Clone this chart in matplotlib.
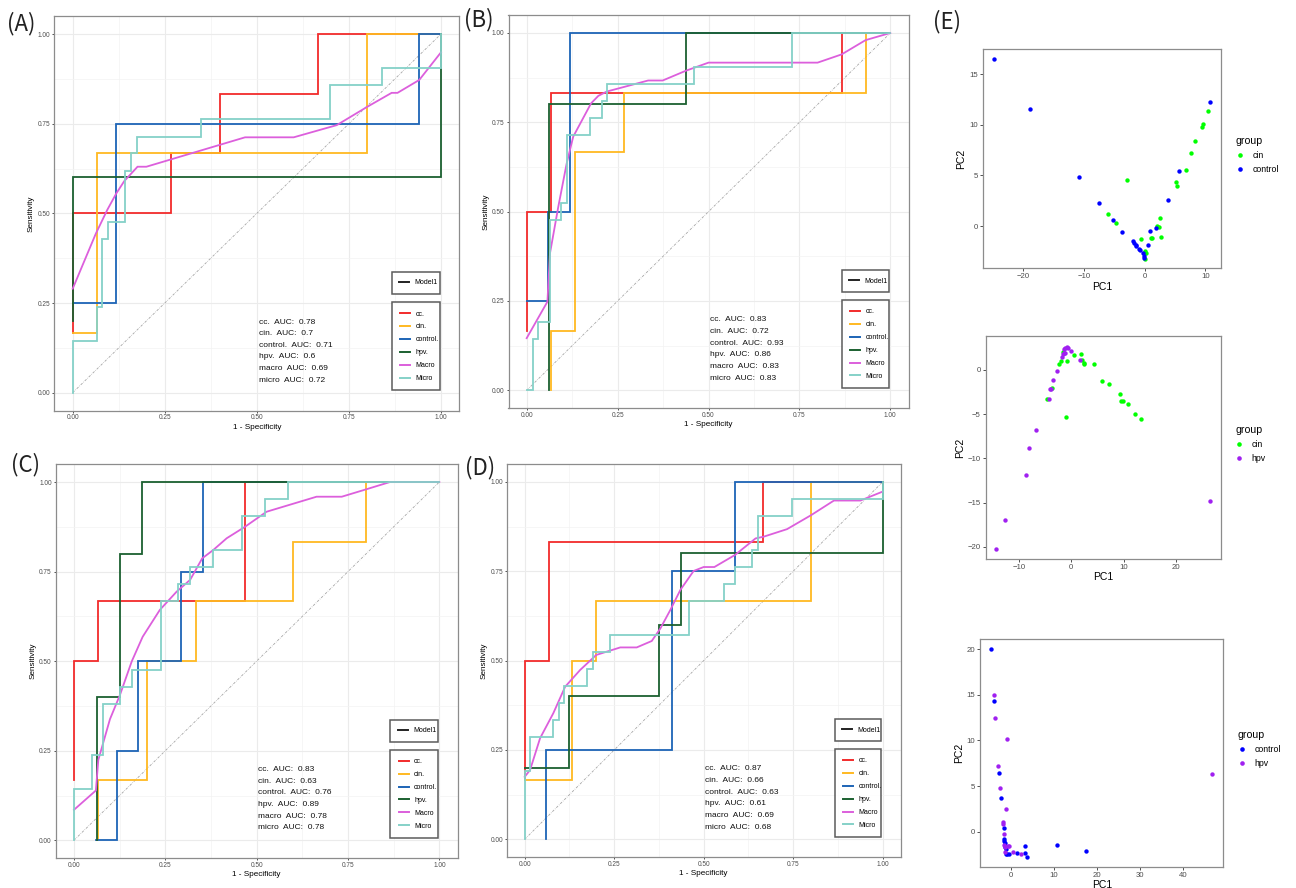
import matplotlib
matplotlib.use("Agg")
import matplotlib.pyplot as plt
from matplotlib.lines import Line2D

plt.rcParams['font.family'] = ['Liberation Sans', 'DejaVu Sans']

# ---------------- data ----------------
classes = ["cc.", "cin.", "control.", "hpv.", "Macro", "Micro"]
class_colors = ["#F22B2B", "#FFB921", "#1D64B6", "#1B6030", "#DC5FDC", "#85D1C8"]
auc_labels = ["cc.", "cin.", "control.", "hpv.", "macro", "micro"]
roc_ticks = [0, 0.25, 0.5, 0.75, 1.0]

# Panel A
A_fpr = {
    "cc.": [0, 0, 0.267, 0.267, 0.4, 0.4, 0.667, 0.667, 1],
    "cin.": [0, 0.067, 0.067, 0.8, 0.8, 1],
    "control.": [0, 0.118, 0.118, 0.941, 0.941, 1],
    "hpv.": [0, 0, 1, 1],
    "Macro": [0, 0.063, 0.094, 0.118, 0.14, 0.176, 0.2, 0.468, 0.6, 0.717, 0.798, 0.866, 0.882, 0.941, 1],
    "Micro": [0, 0, 0.065, 0.065, 0.08, 0.08, 0.095, 0.095, 0.143, 0.143, 0.158, 0.158, 0.174, 0.174,
              0.349, 0.349, 0.698, 0.698, 0.841, 0.841, 1, 1],
}
A_tpr = {
    "cc.": [0.167, 0.5, 0.5, 0.667, 0.667, 0.833, 0.833, 1, 1],
    "cin.": [0.167, 0.167, 0.667, 0.667, 1, 1],
    "control.": [0.25, 0.25, 0.75, 0.75, 1, 1],
    "hpv.": [0.2, 0.6, 0.6, 1],
    "Macro": [0.29, 0.444, 0.51, 0.555, 0.59, 0.63, 0.63, 0.712, 0.712, 0.746, 0.796, 0.836, 0.836, 0.872, 0.949],
    "Micro": [0, 0.143, 0.143, 0.238, 0.238, 0.429, 0.429, 0.476, 0.476, 0.619, 0.619, 0.667, 0.667, 0.714,
              0.714, 0.762, 0.762, 0.857, 0.857, 0.905, 0.905, 1],
}
A_auc = [0.78, 0.7, 0.71, 0.6, 0.69, 0.72]

# Panel B
B_fpr = {
    "cc.": [0, 0, 0.067, 0.067, 0.867, 0.867, 1],
    "cin.": [0.067, 0.067, 0.133, 0.133, 0.267, 0.267, 0.933, 0.933, 1],
    "control.": [0, 0.059, 0.059, 0.118, 0.118, 1],
    "hpv.": [0.0625, 0.0625, 0.4375, 0.4375, 1],
    "Macro": [0, 0.057, 0.064, 0.087, 0.11, 0.128, 0.177, 0.197, 0.22, 0.334, 0.374, 0.437, 0.5, 0.8,
              0.866, 0.932, 1],
    "Micro": [0, 0.016, 0.016, 0.032, 0.032, 0.063, 0.063, 0.095, 0.095, 0.111, 0.111, 0.175, 0.175,
              0.206, 0.206, 0.222, 0.222, 0.46, 0.46, 0.73, 0.73, 1],
}
B_tpr = {
    "cc.": [0.167, 0.5, 0.5, 0.833, 0.833, 1, 1],
    "cin.": [0, 0.167, 0.167, 0.667, 0.667, 0.833, 0.833, 1, 1],
    "control.": [0.25, 0.25, 0.5, 0.5, 1, 1],
    "hpv.": [0, 0.8, 0.8, 1, 1],
    "Macro": [0.146, 0.248, 0.383, 0.514, 0.635, 0.71, 0.803, 0.824, 0.836, 0.867, 0.867, 0.894, 0.917,
              0.917, 0.94, 0.98, 1],
    "Micro": [0, 0, 0.143, 0.143, 0.19, 0.19, 0.476, 0.476, 0.524, 0.524, 0.714, 0.714, 0.762, 0.762,
              0.81, 0.81, 0.857, 0.857, 0.905, 0.905, 1, 1],
}
B_auc = [0.83, 0.72, 0.93, 0.86, 0.83, 0.83]

# Panel C
C_fpr = {
    "cc.": [0, 0, 0.067, 0.067, 0.467, 0.467, 1],
    "cin.": [0.067, 0.067, 0.2, 0.2, 0.333, 0.333, 0.6, 0.6, 0.8, 0.8, 1],
    "control.": [0.059, 0.118, 0.118, 0.176, 0.176, 0.294, 0.294, 0.353, 0.353, 1],
    "hpv.": [0.0625, 0.0625, 0.125, 0.125, 0.1875, 0.1875, 1],
    "Macro": [0, 0.06, 0.0666, 0.0985, 0.126, 0.158, 0.188, 0.235, 0.281, 0.318, 0.351, 0.381, 0.418,
              0.468, 0.527, 0.664, 0.733, 0.801, 0.865, 1],
    "Micro": [0, 0, 0.048, 0.048, 0.079, 0.079, 0.127, 0.127, 0.159, 0.159, 0.238, 0.238, 0.286, 0.286,
              0.317, 0.317, 0.381, 0.381, 0.46, 0.46, 0.524, 0.524, 0.587, 0.587, 1],
}
C_tpr = {
    "cc.": [0.167, 0.5, 0.5, 0.667, 0.667, 1, 1],
    "cin.": [0, 0.167, 0.167, 0.5, 0.5, 0.667, 0.667, 0.833, 0.833, 1, 1],
    "control.": [0, 0, 0.25, 0.25, 0.5, 0.5, 0.75, 0.75, 1, 1],
    "hpv.": [0, 0.4, 0.4, 0.8, 0.8, 1, 1],
    "Macro": [0.085, 0.139, 0.224, 0.338, 0.406, 0.499, 0.568, 0.643, 0.694, 0.727, 0.787, 0.81, 0.843,
              0.875, 0.917, 0.959, 0.959, 0.98, 1, 1],
    "Micro": [0, 0.143, 0.143, 0.238, 0.238, 0.381, 0.381, 0.429, 0.429, 0.476, 0.476, 0.667, 0.667,
              0.714, 0.714, 0.762, 0.762, 0.81, 0.81, 0.905, 0.905, 0.952, 0.952, 1, 1],
}
C_auc = [0.83, 0.63, 0.76, 0.89, 0.78, 0.78]

# Panel D
D_fpr = {
    "cc.": [0, 0, 0.067, 0.067, 0.667, 0.667, 1],
    "cin.": [0, 0.133, 0.133, 0.2, 0.2, 0.8, 0.8, 1],
    "control.": [0.059, 0.059, 0.412, 0.412, 0.588, 0.588, 1],
    "hpv.": [0, 0.125, 0.125, 0.375, 0.375, 0.4375, 0.4375, 1, 1],
    "Macro": [0, 0.015, 0.043, 0.08, 0.113, 0.155, 0.2, 0.267, 0.313, 0.355, 0.379, 0.407, 0.435, 0.472,
              0.5, 0.53, 0.588, 0.645, 0.668, 0.733, 0.8, 0.864, 0.938, 1],
    "Micro": [0, 0, 0.016, 0.016, 0.079, 0.079, 0.095, 0.095, 0.111, 0.111, 0.175, 0.175, 0.19, 0.19,
              0.238, 0.238, 0.46, 0.46, 0.556, 0.556, 0.587, 0.587, 0.635, 0.635, 0.651, 0.651,
              0.746, 0.746, 1, 1],
}
D_tpr = {
    "cc.": [0.167, 0.5, 0.5, 0.833, 0.833, 1, 1],
    "cin.": [0.167, 0.167, 0.5, 0.5, 0.667, 0.667, 1, 1],
    "control.": [0, 0.25, 0.25, 0.75, 0.75, 1, 1],
    "hpv.": [0.2, 0.2, 0.4, 0.4, 0.6, 0.6, 0.8, 0.8, 1],
    "Macro": [0.175, 0.194, 0.283, 0.353, 0.427, 0.474, 0.516, 0.537, 0.537, 0.555, 0.59, 0.642, 0.698,
              0.751, 0.762, 0.762, 0.796, 0.842, 0.847, 0.868, 0.907, 0.948, 0.948, 0.973],
    "Micro": [0, 0.19, 0.19, 0.286, 0.286, 0.333, 0.333, 0.381, 0.381, 0.429, 0.429, 0.476, 0.476,
              0.524, 0.524, 0.571, 0.571, 0.667, 0.667, 0.714, 0.714, 0.762, 0.762, 0.81, 0.81, 0.905,
              0.905, 0.952, 0.952, 1],
}
D_auc = [0.87, 0.66, 0.63, 0.61, 0.69, 0.68]

# PCA panel E1 (cin vs control)
E1_cin_pc1 = [-3.0, -6.0, -4.7, -0.6, 0.05, 0.2, 0.0, 1.0, 1.2, 2.1, 2.3, 2.6, 2.7, 5.2, 5.3, 6.8, 7.7, 8.3, 9.45, 9.6, 10.5]
E1_cin_pc2 = [4.57, 1.18, 0.33, -1.25, -2.5, -2.7, -3.3, -1.2, -1.2, 0.0, -0.1, 0.8, -1.05, 4.3, 3.95, 5.56, 7.24, 8.4, 9.8, 10.07, 11.4]
E1_control_pc1 = [-24.8, -18.9, -10.9, -7.6, -5.2, -3.8, -2.0, -1.7, -1.5, -1.4, -0.9, -0.7, -0.3, -0.2, -0.2, 0.6, 0.9, 1.9, 3.9, 5.7, 10.8]
E1_control_pc2 = [16.45, 11.58, 4.8, 2.24, 0.6, -0.6, -1.5, -1.7, -1.9, -2.0, -2.3, -2.4, -2.7, -2.96, -3.2, -1.9, -0.5, -0.2, 2.6, 5.4, 12.2]

# PCA panel E2 (cin vs hpv)
E2_cin_pc1 = [-4.7, -3.75, -2.3, -1.97, -1.6, -0.9, -1.08, 0.57, 1.84, 2.03, 2.35, 2.48, 4.3, 5.84, 7.24, 9.2, 9.46, 9.9, 10.8, 12.1, 13.27]
E2_cin_pc2 = [-3.28, -2.03, 0.68, 0.98, 2.03, 1.02, -5.31, 1.73, 1.84, 1.13, 0.64, 0.75, 0.64, -1.24, -1.58, -2.71, -3.5, -3.46, -3.88, -5.0, -5.5]
E2_hpv_pc1 = [-14.35, -12.7, -8.7, -8.06, -6.8, -4.3, -4.0, -3.9, -3.43, -2.8, -1.84, -1.6, -1.33, -1.2, -1.46, -1.2, -0.89, -0.7, -0.06, 1.6, 26.4]
E2_hpv_pc2 = [-20.26, -16.95, -11.83, -8.78, -6.75, -3.3, -2.18, -2.1, -1.13, -0.1, 1.43, 1.77, 1.88, 1.96, 2.37, 2.5, 2.64, 2.5, 2.15, 1.13, -14.76]

# PCA panel E3 (control vs hpv)
E3_control_pc1 = [-4.57, -3.88, -2.7, -2.33, -1.7, -1.6, -1.55, -1.5, -1.5, -1.24, -1.16, -0.85, -0.39, 1.4, 3.26, 3.3, 3.7, 10.7, 17.36]
E3_control_pc2 = [20.0, 14.29, 6.45, 3.7, 0.37, -0.84, -1.0, -1.2, -1.65, -1.94, -2.45, -2.45, -2.45, -2.38, -1.54, -2.38, -2.75, -1.47, -2.09]
E3_hpv_pc1 = [-4.0, -3.7, -0.93, -2.95, -2.56, -1.09, -1.94, -1.78, -1.7, -1.55, -1.4, -1.3, -0.78, -0.54, 0.54, 2.25, 46.8]
E3_hpv_pc2 = [14.98, 12.45, 10.18, 7.25, 4.8, 2.53, 1.03, 0.8, -0.26, -1.47, -1.68, -2.2, -1.54, -1.58, -2.23, -2.49, 6.37]

group_colors = {"cin": "#00FF00", "control": "#0000FF", "hpv": "#A020F0"}

# ---------------- figure ----------------
W, H = 1296, 888
fig = plt.figure(figsize=(W / 100, H / 100), dpi=100)


def px_axes(l, t, r, b):
    return fig.add_axes([l / W, 1 - b / H, (r - l) / W, (b - t) / H])


BORDER = "#8C8C8C"


def roc_panel(ax, fpr, tpr, aucs, xlabel=True):
    ax.set_xlim(-0.05, 1.05)
    ax.set_ylim(-0.05, 1.05)
    ax.set_xticks(roc_ticks)
    ax.set_yticks(roc_ticks)
    ax.set_xticklabels([f"{v:.2f}" for v in roc_ticks])
    ax.set_yticklabels([f"{v:.2f}" for v in roc_ticks])
    minor = [0.125, 0.375, 0.625, 0.875]
    ax.set_xticks(minor, minor=True)
    ax.set_yticks(minor, minor=True)
    ax.grid(which="major", color="#EBEBEB", lw=0.8)
    ax.grid(which="minor", color="#F3F3F3", lw=0.5)
    ax.set_axisbelow(True)
    ax.tick_params(which="major", length=1.6, width=0.6, color="#333333", pad=1.2,
                   labelsize=4.7, labelcolor="#4D4D4D")
    ax.tick_params(which="minor", length=0)
    for s in ax.spines.values():
        s.set_color(BORDER)
        s.set_linewidth(0.9)
    ax.plot([0, 1], [0, 1], color="#A6A6A6", lw=0.6, dashes=[3, 1.5, 0.7, 1.5])
    for cls, col in zip(classes, class_colors):
        ax.plot(fpr[cls], tpr[cls], color=col, lw=1.3, solid_joinstyle="miter")
    for i, (lab, v) in enumerate(zip(auc_labels, aucs)):
        ax.text(0.505, 0.197 - i * 0.0325, f"{lab}  AUC:  {v:g}", fontsize=6.0,
                ha="left", va="center", color="#111111")
    ax.set_ylabel("Sensitivity", fontsize=5.9, labelpad=2)
    if xlabel:
        ax.set_xlabel("1 - Specificity", fontsize=5.9, labelpad=1.5)
    # legends
    h1 = [Line2D([], [], color="#222222", lw=1.4)]
    leg1 = ax.legend(h1, ["Model1"], loc="center", bbox_to_anchor=(0.833, 0.292, 0.118, 0.063),
                     mode="expand", fontsize=5, frameon=True, fancybox=False, borderpad=1.1,
                     handlelength=1.45, handletextpad=0.75, borderaxespad=0)
    leg1.get_frame().set_edgecolor("#333333")
    leg1.get_frame().set_linewidth(1.1)
    ax.add_artist(leg1)
    h2 = [Line2D([], [], color=c, lw=1.4) for c in class_colors]
    leg2 = ax.legend(h2, classes, loc="center", bbox_to_anchor=(0.833, 0.052, 0.118, 0.222),
                     mode="expand", fontsize=5, frameon=True, fancybox=False, borderpad=1.2,
                     labelspacing=0.85, handlelength=1.45, handletextpad=0.75, borderaxespad=0)
    leg2.get_frame().set_edgecolor("#333333")
    leg2.get_frame().set_linewidth(1.1)


axA = px_axes(54.3, 16.1, 459.4, 410.6)
roc_panel(axA, A_fpr, A_tpr, A_auc)
axB = px_axes(508.5, 15.1, 908.5, 408.2)
roc_panel(axB, B_fpr, B_tpr, B_auc)
axC = px_axes(55.7, 464.1, 457.6, 858.2)
roc_panel(axC, C_fpr, C_tpr, C_auc)
axD = px_axes(506.8, 464.1, 900.5, 857.2)
roc_panel(axD, D_fpr, D_tpr, D_auc)


def pca_panel(ax, g1, g2, xlim, ylim, xticks, yticks, leg_xy):
    for name, xs, ys in (g1, g2):
        ax.scatter(xs, ys, s=10, color=group_colors[name], linewidths=0, zorder=3)
    ax.set_xlim(*xlim)
    ax.set_ylim(*ylim)
    ax.set_xticks(xticks)
    ax.set_yticks(yticks)
    ax.tick_params(length=2, width=0.6, color="#333333", pad=1.5, labelsize=5.6, labelcolor="#4D4D4D")
    for s in ax.spines.values():
        s.set_color(BORDER)
        s.set_linewidth(0.9)
    ax.set_xlabel("PC1", fontsize=7.5, labelpad=1)
    ax.set_ylabel("PC2", fontsize=7.5, labelpad=2)
    names = sorted([g1[0], g2[0]])
    handles = [Line2D([], [], ls="", marker="o", markersize=3.3, color=group_colors[n],
                      markeredgewidth=0) for n in names]
    ax.legend(handles, names, title="group", loc="upper left",
              bbox_to_anchor=(leg_xy[0] / W, 1 - leg_xy[1] / H), bbox_transform=fig.transFigure,
              frameon=False, fontsize=6.3, title_fontsize=7.6, alignment="left",
              borderpad=0, borderaxespad=0, handlelength=1.0, handletextpad=0.9,
              labelspacing=0.55)


axE1 = px_axes(982.7, 49.3, 1221, 268.3)
pca_panel(axE1, ("cin", E1_cin_pc1, E1_cin_pc2), ("control", E1_control_pc1, E1_control_pc2),
          (-26.7, 12.57), (-4.17, 17.44), [-20, -10, 0, 10], [0, 5, 10, 15], (1236, 136))
axE2 = px_axes(985.7, 336, 1221, 559)
pca_panel(axE2, ("cin", E2_cin_pc1, E2_cin_pc2), ("hpv", E2_hpv_pc1, E2_hpv_pc2),
          (-16.3, 28.5), (-21.36, 3.84), [-10, 0, 10, 20], [-20, -15, -10, -5, 0], (1235, 425))
axE3 = px_axes(980.3, 639.3, 1223.3, 866.7)
pca_panel(axE3, ("control", E3_control_pc1, E3_control_pc2), ("hpv", E3_hpv_pc1, E3_hpv_pc2),
          (-7.13, 49.4), (-3.85, 21.1), [0, 10, 20, 30, 40], [0, 5, 10, 15, 20], (1238, 730))

# panel letters
lab_font = ["Noto Sans CJK SC", "DejaVu Sans"]
for txt, x, y in (("(A)", 7, 24), ("(B)", 464, 20), ("(C)", 11, 465), ("(D)", 465, 468), ("(E)", 933, 22)):
    fig.text(x / W, 1 - y / H, txt, fontsize=16, family=lab_font, fontweight="light",
             ha="left", va="center", color="#222222")

fig.savefig("out.png", dpi=100)
